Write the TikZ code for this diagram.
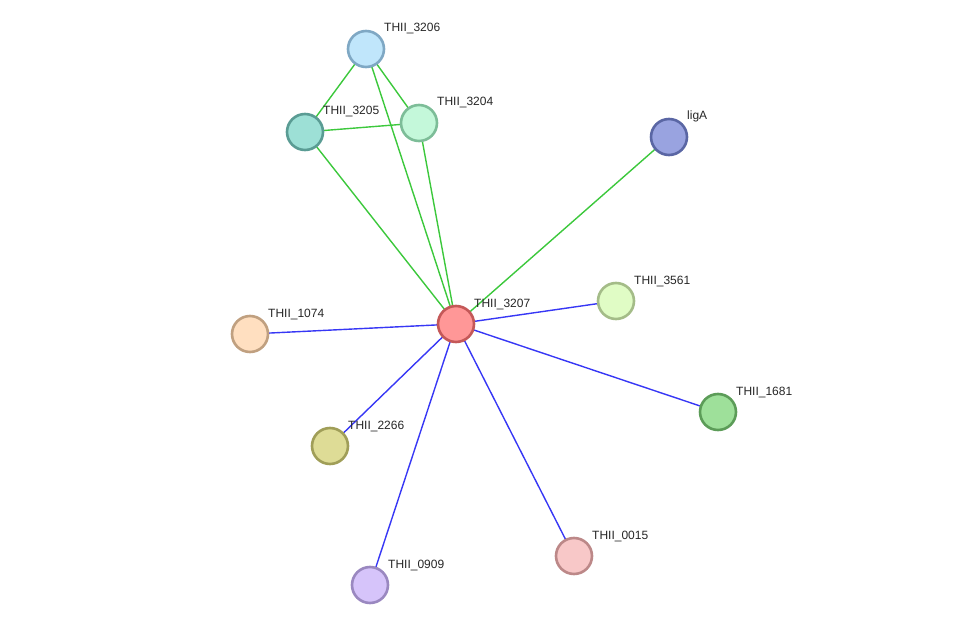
\documentclass[tikz,border=0pt]{standalone}
\usepackage{fontspec}
\setmainfont{Liberation Sans}
\definecolor{eg}{HTML}{3CC83C}
\definecolor{eb}{HTML}{3737F5}
\definecolor{f3206}{HTML}{C0E6FB}\definecolor{d3206}{HTML}{7FA8C4}
\definecolor{f3205}{HTML}{9DE0D6}\definecolor{d3205}{HTML}{5A9C94}
\definecolor{f3204}{HTML}{C4F8DA}\definecolor{d3204}{HTML}{7DBD98}
\definecolor{fligA}{HTML}{99A3E0}\definecolor{dligA}{HTML}{5A66A4}
\definecolor{f3207}{HTML}{FF9797}\definecolor{d3207}{HTML}{C45858}
\definecolor{f3561}{HTML}{E0FCC5}\definecolor{d3561}{HTML}{A4BC88}
\definecolor{f1074}{HTML}{FFDFC0}\definecolor{d1074}{HTML}{C0A080}
\definecolor{f1681}{HTML}{9EE09A}\definecolor{d1681}{HTML}{5C9C58}
\definecolor{f2266}{HTML}{DEDC96}\definecolor{d2266}{HTML}{A09E58}
\definecolor{f0015}{HTML}{F8C8C8}\definecolor{d0015}{HTML}{BC8888}
\definecolor{f0909}{HTML}{D6C4FA}\definecolor{d0909}{HTML}{9A88C0}
\tikzset{
  prot/.style={circle, minimum size=36pt, inner sep=0pt, line width=2.6pt, fill=f#1, draw=d#1},
  lbl/.style={anchor=base west, font=\fontsize{12}{14}\selectfont, text=black!85, inner sep=0pt},
  ge/.style={draw=eg, line width=1.4pt},
  be/.style={draw=eb, line width=1.4pt},
}
\begin{document}
\begin{tikzpicture}[x=1pt,y=-1pt]
\useasboundingbox (0,0) rectangle (975,631);
% coordinates
\coordinate (c3206) at (366,49);
\coordinate (c3205) at (305,132);
\coordinate (c3204) at (419,123);
\coordinate (cligA) at (669,137);
\coordinate (c3207) at (456,324);
\coordinate (c3561) at (616,301);
\coordinate (c1074) at (250,334);
\coordinate (c1681) at (718,412);
\coordinate (c2266) at (330,446);
\coordinate (c0015) at (574,556);
\coordinate (c0909) at (370,585);
% edges
\draw[ge] (c3206) -- (c3205);
\draw[ge] (c3206) -- (c3204);
\draw[ge] (c3205) -- (c3204);
\draw[ge] (c3206) -- (c3207);
\draw[ge] (c3204) -- (c3207);
\draw[ge] (c3205) -- (c3207);
\draw[ge] (cligA) -- (c3207);
\draw[be] (c3207) -- (c3561);
\draw[be] (c3207) -- (c1074);
\draw[be] (c3207) -- (c1681);
\draw[be] (c3207) -- (c2266);
\draw[be] (c3207) -- (c0015);
\draw[be] (c3207) -- (c0909);
% nodes
\node[prot=3206] (n3206) at (c3206) {};
\node[prot=3205] (n3205) at (c3205) {};
\node[prot=3204] (n3204) at (c3204) {};
\node[prot=ligA] (nligA) at (cligA) {};
\node[prot=3207] (n3207) at (c3207) {};
\node[prot=3561] (n3561) at (c3561) {};
\node[prot=1074] (n1074) at (c1074) {};
\node[prot=1681] (n1681) at (c1681) {};
\node[prot=2266] (n2266) at (c2266) {};
\node[prot=0015] (n0015) at (c0015) {};
\node[prot=0909] (n0909) at (c0909) {};
% labels
\node[lbl] (l3206) at ([shift={(18,-17)}]c3206) {THII\_3206};
\node[lbl] (l3205) at ([shift={(18,-17)}]c3205) {THII\_3205};
\node[lbl] (l3204) at ([shift={(18,-17)}]c3204) {THII\_3204};
\node[lbl] (lligA) at ([shift={(18,-17)}]cligA) {ligA};
\node[lbl] (l3207) at ([shift={(18,-17)}]c3207) {THII\_3207};
\node[lbl] (l3561) at ([shift={(18,-17)}]c3561) {THII\_3561};
\node[lbl] (l1074) at ([shift={(18,-17)}]c1074) {THII\_1074};
\node[lbl] (l1681) at ([shift={(18,-17)}]c1681) {THII\_1681};
\node[lbl] (l2266) at ([shift={(18,-17)}]c2266) {THII\_2266};
\node[lbl] (l0015) at ([shift={(18,-17)}]c0015) {THII\_0015};
\node[lbl] (l0909) at ([shift={(18,-17)}]c0909) {THII\_0909};
\end{tikzpicture}
\end{document}
